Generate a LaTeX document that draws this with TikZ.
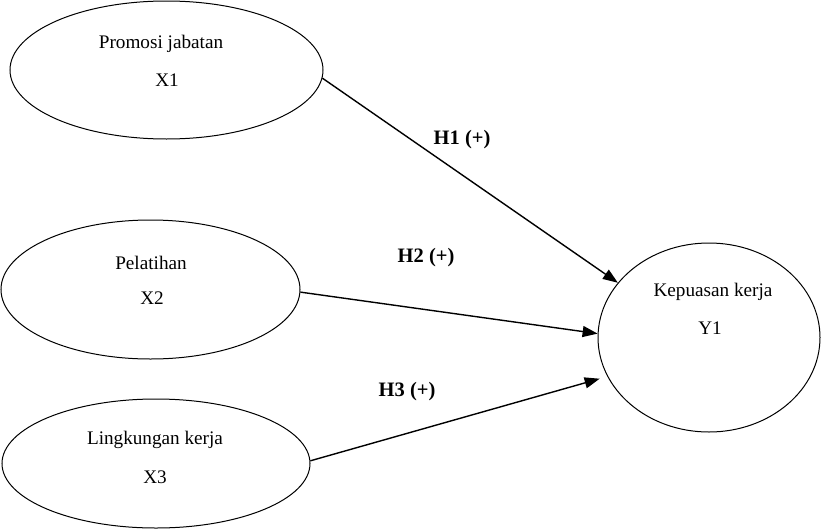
\documentclass[tikz,border=0pt]{standalone}
\usepackage{fontspec}
\setmainfont{Liberation Serif}
\usetikzlibrary{shapes.geometric,arrows.meta}
\begin{document}
\begin{tikzpicture}[x=1pt,y=-1pt,
  latent/.style={draw,ellipse,line width=1pt,inner sep=0pt,minimum width=#1},
  txt/.style={font=\fontsize{19.2}{21}\selectfont,inner sep=0pt,anchor=center},
  hyp/.style={font=\bfseries\fontsize{20.5}{22}\selectfont,inner sep=0pt,anchor=center},
  path/.style={line width=1.4pt,-{Triangle[length=15pt,width=11pt]}}]
\useasboundingbox (0,0) rectangle (821,530);
\node[latent=313pt,minimum height=138pt] (x1) at (166.5,70) {};
\node[latent=299pt,minimum height=139pt] (x2) at (150.5,289.5) {};
\node[latent=308pt,minimum height=129pt] (x3) at (156,463.5) {};
\node[latent=222pt,minimum height=189pt] (y1) at (709,337.5) {};
\node[txt] (t1a) at (161,44) {Promosi jabatan};
\node[txt] (t1b) at (167,80) {X1};
\node[txt] (t2a) at (151,263) {Pelatihan};
\node[txt] (t2b) at (152,298) {X2};
\node[txt] (t3a) at (155,440) {Lingkungan kerja};
\node[txt] (t3b) at (155,477) {X3};
\node[txt] (tya) at (713,292) {Kepuasan kerja};
\node[txt] (tyb) at (710,328) {Y1};
\node[hyp] (h1) at (462,140) {H1 (+)};
\node[hyp] (h2) at (426,258) {H2 (+)};
\node[hyp] (h3) at (407,392) {H3 (+)};
\draw[path] (x1.-3) -- (y1.149.4);
\draw[path] (x2.-1.7) -- (y1.178.7);
\draw[path,shorten >=8pt] (x3.1.1) -- (y1.201.7);
\end{tikzpicture}
\end{document}
